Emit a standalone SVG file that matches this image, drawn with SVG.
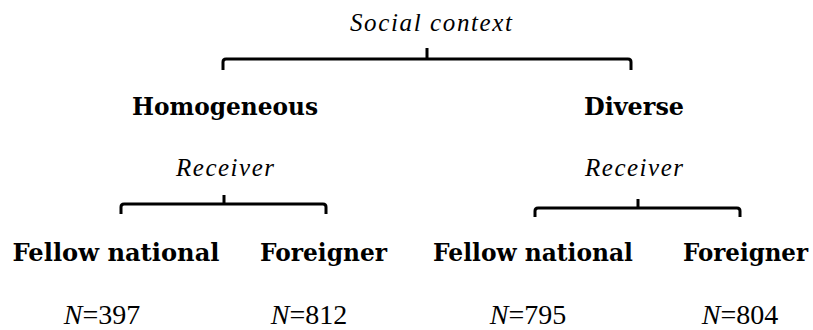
<svg xmlns="http://www.w3.org/2000/svg" width="813" height="330" viewBox="0 0 813 330">
<style>
.it{font-family:'Liberation Serif','Times New Roman','DejaVu Serif',serif;font-style:italic;font-size:25px;fill:#000;text-anchor:middle}
.bd{font-family:'DejaVu Serif',serif;font-weight:bold;font-size:24px;fill:#000;text-anchor:middle}
.rm{font-family:'Liberation Serif','Times New Roman','DejaVu Serif',serif;font-size:28px;fill:#000;text-anchor:middle}
.nit{font-style:italic}
.br{fill:none;stroke:#000;stroke-width:3;stroke-linejoin:round}
</style>
<rect width="813" height="330" fill="#fff"/>
<g id="connectors">
<path class="br" d="M223,70 L223,62 Q223,59 226,59 L628,59 Q631,59 631,62 L631,70 M427,59 L427,48"/>
<path class="br" d="M121,214 L121,207 Q121,204 124,204 L323,204 Q326,204 326,207 L326,214 M224,204 L224,195"/>
<path class="br" d="M535,217 L535,211 Q535,208 538,208 L737,208 Q740,208 740,211 L740,217 M638,208 L638,199"/>
</g>
<g id="social-context"><text class="it" x="431" y="31" textLength="162" lengthAdjust="spacing">Social context</text></g>
<g id="homogeneous"><text class="bd" x="225" y="115" textLength="186" lengthAdjust="spacingAndGlyphs">Homogeneous</text></g>
<g id="diverse"><text class="bd" x="634" y="115" textLength="100" lengthAdjust="spacingAndGlyphs">Diverse</text></g>
<g id="receiver-left"><text class="it" x="225" y="176" textLength="98" lengthAdjust="spacing">Receiver</text></g>
<g id="receiver-right"><text class="it" x="634" y="176" textLength="98" lengthAdjust="spacing">Receiver</text></g>
<g id="fellow-left"><text class="bd" x="116" y="261" textLength="207" lengthAdjust="spacingAndGlyphs">Fellow national</text></g>
<g id="foreigner-left"><text class="bd" x="323.5" y="261" textLength="127" lengthAdjust="spacingAndGlyphs">Foreigner</text></g>
<g id="fellow-right"><text class="bd" x="533" y="261" textLength="200" lengthAdjust="spacingAndGlyphs">Fellow national</text></g>
<g id="foreigner-right"><text class="bd" x="745.5" y="261" textLength="125" lengthAdjust="spacingAndGlyphs">Foreigner</text></g>
<g id="n-397"><text class="rm" x="102" y="324"><tspan class="nit">N</tspan>=397</text></g>
<g id="n-812"><text class="rm" x="309" y="324"><tspan class="nit">N</tspan>=812</text></g>
<g id="n-795"><text class="rm" x="528" y="324"><tspan class="nit">N</tspan>=795</text></g>
<g id="n-804"><text class="rm" x="740" y="324"><tspan class="nit">N</tspan>=804</text></g>
</svg>
